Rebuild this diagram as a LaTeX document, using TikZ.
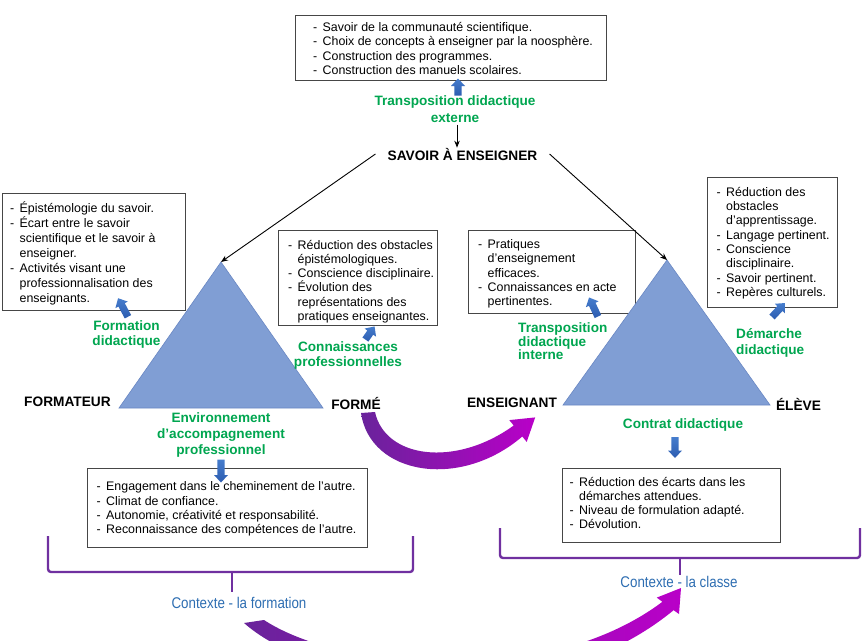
\documentclass[tikz,border=0pt]{standalone}
\usepackage{fontspec}
\setmainfont{Liberation Sans}
\newfontfamily\narrowfont[FakeStretch=0.86]{Liberation Sans}
\usetikzlibrary{arrows.meta}
\definecolor{gtxt}{RGB}{0,166,80}
\definecolor{ctxblue}{RGB}{46,110,178}
\definecolor{brk}{RGB}{112,48,160}
\definecolor{tri}{RGB}{128,158,212}
\definecolor{triedge}{RGB}{105,135,195}
\definecolor{barrow}{RGB}{44,92,176}
\definecolor{barrowlt}{RGB}{70,125,205}
\definecolor{boxedge}{RGB}{70,70,70}
\definecolor{purA}{RGB}{105,35,155}
\definecolor{purB}{RGB}{185,0,200}
\newcommand\myit{\makebox[9.5pt][l]{-}}
\newcommand\mycont{\hspace*{9.5pt}}
% block arrow: x, y, angle, length
\newcommand\blockarr[4]{%
  \shade[top color=barrowlt,bottom color=barrow,shift={(#1,#2)},rotate=#3]
    ({-0.5*#4pt},-3.6pt) -- ({0.5*#4pt-7.5pt},-3.6pt) -- ({0.5*#4pt-7.5pt},-7pt)
    -- ({0.5*#4pt},0pt) -- ({0.5*#4pt-7.5pt},7pt) -- ({0.5*#4pt-7.5pt},3.6pt)
    -- ({-0.5*#4pt},3.6pt) -- cycle;}
\begin{document}
\begin{tikzpicture}[x=1pt,y=-1pt,
  box/.style={draw=boxedge,line width=1.1pt,fill=white,inner sep=0pt,anchor=north west},
  btext/.style={align=left,inner sep=0pt,anchor=west,font=\fontsize{12.4}{14.3}\selectfont},
  glabel/.style={text=gtxt,font=\fontsize{13.6}{16}\selectfont\bfseries,align=center,inner sep=0pt},
  klabel/.style={font=\fontsize{13.7}{16}\selectfont\bfseries,inner sep=0pt},
  ctx/.style={text=ctxblue,font=\fontsize{15.5}{18}\selectfont\narrowfont,inner sep=0pt},
  blk/.style={-{Stealth[length=7pt,width=5.5pt]},line width=0.9pt},
  brack/.style={draw=brk,line width=2.4pt,rounded corners=3pt}
]
\useasboundingbox (0,0) rectangle (862,640);
\fill[white] (0,0) rectangle (862,640);

% ---- boxes
\node[box,minimum width=311pt,minimum height=65pt] (b1) at (295,15) {};
\node[btext] (t1) at (313,48.5) {\myit Savoir de la communaut\'e scientifique.\\
\myit Choix de concepts \`a enseigner par la noosph\`ere.\\
\myit Construction des programmes.\\
\myit Construction des manuels scolaires.};

\node[box,minimum width=183pt,minimum height=117pt] (b2) at (2,193) {};
\node[btext,font=\fontsize{12.4}{15}\selectfont] (t2) at (10,253) {\myit \'Epist\'emologie du savoir.\\
\myit \'Ecart entre le savoir\\
\mycont scientifique et le savoir \`a\\
\mycont enseigner.\\
\myit Activit\'es visant une\\
\mycont professionnalisation des\\
\mycont enseignants.};

\node[box,minimum width=159pt,minimum height=95pt] (b3) at (278,230) {};
\node[btext] (t3) at (288,281.5) {\myit R\'eduction des obstacles\\
\mycont \'epist\'emologiques.\\
\myit Conscience disciplinaire.\\
\myit \'Evolution des\\
\mycont repr\'esentations des\\
\mycont pratiques enseignantes.};

\node[box,minimum width=167pt,minimum height=83pt] (b4) at (468,230) {};
\node[btext] (t4) at (478,274) {\myit Pratiques\\
\mycont d'enseignement\\
\mycont efficaces.\\
\myit Connaissances en acte\\
\mycont pertinentes.};

\node[box,minimum width=130pt,minimum height=130pt] (b5) at (707,177) {};
\node[btext] (t5) at (716.5,243) {\myit R\'eduction des\\
\mycont obstacles\\
\mycont d'apprentissage.\\
\myit Langage pertinent.\\
\myit Conscience\\
\mycont disciplinaire.\\
\myit Savoir pertinent.\\
\myit Rep\`eres culturels.};

\node[box,minimum width=280pt,minimum height=79pt] (b6) at (87,468) {};
\node[btext] (t6) at (96.5,509) {\myit Engagement dans le cheminement de l'autre.\\
\myit Climat de confiance.\\
\myit Autonomie, cr\'eativit\'e et responsabilit\'e.\\
\myit Reconnaissance des comp\'etences de l'autre.};

\node[box,minimum width=218pt,minimum height=74pt] (b7) at (562,468) {};
\node[btext] (t7) at (569.5,503) {\myit R\'eduction des \'ecarts dans les\\
\mycont d\'emarches attendues.\\
\myit Niveau de formulation adapt\'e.\\
\myit D\'evolution.};

% ---- triangles
\coordinate (apexL) at (221,262);
\coordinate (blL) at (119,408);
\coordinate (brL) at (323,408);
\coordinate (apexR) at (667,260);
\coordinate (blR) at (563,405);
\coordinate (brR) at (770,405);
\filldraw[fill=tri,draw=triedge,line width=0.6pt] (apexL) -- (blL) -- (brL) -- cycle;
\filldraw[fill=tri,draw=triedge,line width=0.6pt] (apexR) -- (blR) -- (brR) -- cycle;

% ---- labels
\node[klabel,inner xsep=12pt] (sav) at (462.5,154) {SAVOIR \`A ENSEIGNER};
\node[klabel] (formateur) at (67.5,402) {FORMATEUR};
\node[klabel] (forme) at (356,403.5) {FORM\'E};
\node[klabel] (ens) at (512,403) {ENSEIGNANT};
\node[klabel] (eleve) at (798.5,404) {\'EL\`EVE};

\node[glabel,font=\fontsize{13.6}{16.7}\selectfont\bfseries] (tde) at (455,109) {Transposition didactique\\externe};
\node[glabel,font=\fontsize{13.6}{15}\selectfont\bfseries] (gform) at (126.5,334.5) {Formation\\didactique};
\node[glabel,font=\fontsize{13.6}{15}\selectfont\bfseries] (gconn) at (348,355.5) {Connaissances\\professionnelles};
\node[glabel,align=left,anchor=west,font=\fontsize{13.6}{13.5}\selectfont\bfseries] (gtdi) at (518,341.5) {Transposition\\didactique\\interne};
\node[glabel,align=left,anchor=west] (gdem) at (736,343) {D\'emarche\\didactique};
\node[glabel] (genv) at (221,435) {Environnement\\d'accompagnement\\professionnel};
\node[glabel] (gcon) at (683,425) {Contrat didactique};

% ---- black arrows
\draw[blk] ([xshift=2pt,yshift=-2pt]tde.south) -- ([xshift=2pt]tde.south |- sav.north);
\draw[blk] (sav.west) -- (apexL);
\draw[blk] (sav.east) -- (apexR);

% ---- blue block arrows
\blockarr{458}{87}{90}{17}
\blockarr{123}{307.5}{118}{21}
\blockarr{370}{333}{55}{16}
\blockarr{593.5}{307}{115}{21}
\blockarr{778.5}{310}{47}{19}
\blockarr{221}{471}{-90}{23}
\blockarr{675}{447.5}{-90}{21}

% ---- brackets
\draw[brack] (48,536) -- (48,572) -- (413,572) -- (413,536);
\draw[brack] (232,572) -- (232,592);
\draw[brack] (500,528) -- (500,558) -- (860,558) -- (860,528);
\draw[brack] (680,558) -- (680,575);
\node[ctx] (ctxf) at (239,603) {Contexte - la formation};
\node[ctx] (ctxc) at (679,582) {Contexte - la classe};

% ---- curved purple arrows
\shade[left color=purA,right color=purB]
  (361,413) .. controls (370,475) and (460,490) .. (522.3,436.5)
  -- (526.7,441.9) -- (535.2,417.4) -- (509.3,420.1) -- (513.7,425.5)
  .. controls (455,468) and (385,458) .. (375,412) -- cycle;
\begin{scope}
\clip (0,0) rectangle (862,640);
\shade[left color=purA,right color=purB]
  (244,623) .. controls (320,690) and (540,720) .. (673.6,610.2)
  -- (679,614) -- (681,588) -- (656.8,597.6) -- (662.4,601.8)
  .. controls (545,690) and (340,670) .. (264,620) -- cycle;
\end{scope}
\end{tikzpicture}
\end{document}
